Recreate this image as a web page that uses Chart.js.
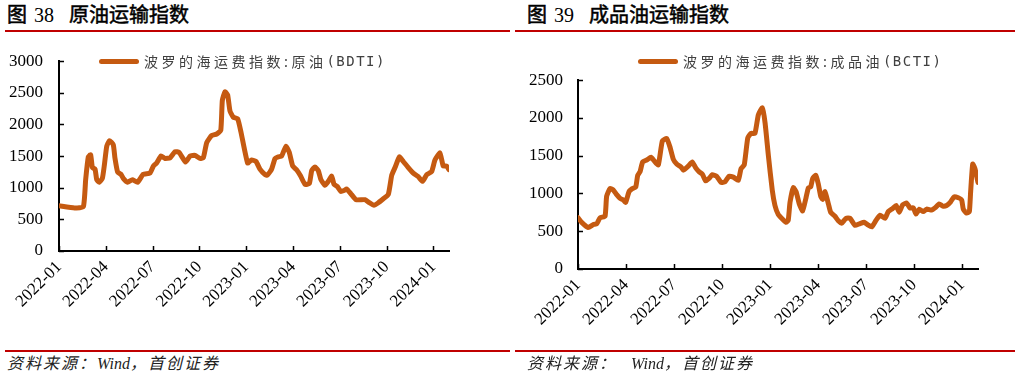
<!DOCTYPE html>
<html lang="zh-CN">
<head>
<meta charset="utf-8">
<title>原油运输指数 / 成品油运输指数</title>
<script src="https://cdn.jsdelivr.net/npm/chart.js@4.4.1/dist/chart.umd.min.js"></script>
<style>
  html, body { margin: 0; padding: 0; background: #fff; }
  body { width: 1021px; height: 380px; position: relative; overflow: hidden; font-family: "Noto Sans CJK SC", sans-serif; }
  .title { position: absolute; top: 4px; line-height: 22px; font-size: 20px; font-weight: normal; color: #000; white-space: nowrap;
           -webkit-text-stroke: 0.5px #000;
           font-family: "Liberation Serif", "Noto Sans CJK SC", serif; }
  .title .num { -webkit-text-stroke: 0; }
  .rule { position: absolute; height: 2px; background: #c00000; }
  .box { position: absolute; }
  .legend { position: absolute; display: flex; align-items: center; height: 18px; white-space: nowrap; color: #404040; }
  .legend .swatch { width: 40px; height: 5px; border-radius: 3px; background: #C55A11; margin-right: 5px; }
  .legend .cn { font-size: 14px; letter-spacing: 3.5px; }
  .legend .en { font-family: "DejaVu Sans Mono", monospace; font-size: 14px; letter-spacing: 1.5px; }
  .source { position: absolute; top: 355px; font-size: 16px; line-height: 18px; font-style: italic; color: #222; white-space: nowrap;
            font-family: "Liberation Serif", "Noto Sans CJK SC", serif; }
  .source .cn { letter-spacing: 2px; }
</style>
</head>
<body>

<div class="title" style="left:7px">图<span class="num" style="margin:0 15px 0 7px">38</span>原油运输指数</div>
<div class="rule" style="left:5px; width:505px; top:30px"></div>
<div class="title" style="left:527px">图<span class="num" style="margin:0 15px 0 7px">39</span>成品油运输指数</div>
<div class="rule" style="left:515px; width:500px; top:30px"></div>

<div class="box" style="left:0; top:35px"><canvas id="bdti" width="505" height="300"></canvas></div>
<div class="box" style="left:515px; top:55px"><canvas id="bcti" width="505" height="300"></canvas></div>

<div class="legend" style="left:99px; top:52px"><span class="swatch"></span><span class="cn">波罗的海运费指数:原油</span><span class="en">(BDTI)</span></div>
<div class="legend" style="left:638px; top:52px"><span class="swatch"></span><span class="cn">波罗的海运费指数:成品油</span><span class="en">(BCTI)</span></div>

<div class="rule" style="left:5px; width:505px; top:350px"></div>
<div class="rule" style="left:515px; width:500px; top:350px"></div>
<div class="source" style="left:7px"><span class="cn">资料来源：</span>Wind<span class="cn">，首创证券</span></div>
<div class="source" style="left:527px"><span class="cn">资料来源：</span><span style="margin-left:14px">Wind</span><span class="cn">，首创证券</span></div>

<script>
// quarter tick labels, one every 3 months from 2022-01
const quarterLabels = ['2022-01', '2022-04', '2022-07', '2022-10', '2023-01',
                       '2023-04', '2023-07', '2023-10', '2024-01'];

// x = months since 2022-01 (fractional)
const bdtiMonths = [0, 1.0, 1.56, 1.71, 1.88, 2.03, 2.14, 2.31, 2.42, 2.58,
  2.78, 2.9, 3.06, 3.23, 3.48, 3.59, 3.76, 3.97, 4.12, 4.4,
  4.7, 5.04, 5.4, 5.83, 6.05, 6.26, 6.54, 6.79, 7.12, 7.44,
  7.69, 8.12, 8.4, 8.72, 9.04, 9.25, 9.47, 9.79, 10.11, 10.37,
  10.47, 10.64, 10.81, 10.96, 11.17, 11.45, 11.67, 12.09, 12.35, 12.63,
  12.88, 13.21, 13.35, 13.63, 13.85, 14.06, 14.27, 14.55, 14.76, 14.98,
  15.24, 15.49, 15.77, 16.05, 16.2, 16.41, 16.62, 16.78, 17.05, 17.26,
  17.48, 17.63, 17.84, 18.06, 18.27, 18.44, 18.7, 19.04, 19.62, 19.89,
  20.19, 20.47, 20.79, 21.11, 21.33, 21.54, 21.82, 22.07, 22.39, 22.71,
  23.03, 23.31, 23.57, 23.89, 24.1, 24.42, 24.63, 24.85, 25.0];
const bdtiValues = [714, 681, 700, 1130, 1488, 1521, 1318, 1294, 1126, 1087,
  1149, 1343, 1656, 1743, 1681, 1463, 1246, 1213, 1149, 1087,
  1126, 1087, 1213, 1232, 1343, 1391, 1502, 1463, 1473, 1569,
  1560, 1405, 1502, 1511, 1463, 1473, 1714, 1826, 1850, 1908,
  2381, 2517, 2468, 2213, 2116, 2091, 1874, 1391, 1439, 1415,
  1294, 1207, 1198, 1294, 1463, 1488, 1502, 1656, 1560, 1343,
  1280, 1184, 1053, 1068, 1271, 1329, 1271, 1135, 1039, 1101,
  1184, 1053, 1019, 942, 956, 981, 908, 811, 811, 763,
  724, 763, 826, 894, 1198, 1319, 1488, 1415, 1319, 1232,
  1174, 1101, 1207, 1256, 1439, 1550, 1343, 1343, 1285];

const bctiMonths = [0, 0.23, 0.64, 0.96, 1.17, 1.38, 1.69, 1.79, 2.0, 2.21,
  2.42, 2.63, 2.83, 2.98, 3.19, 3.39, 3.61, 3.73, 3.88, 4.04,
  4.29, 4.56, 4.77, 5.02, 5.27, 5.54, 5.75, 5.96, 6.17, 6.44,
  6.58, 6.89, 7.14, 7.36, 7.56, 7.77, 7.98, 8.19, 8.39, 8.67,
  8.94, 9.19, 9.44, 9.71, 10.02, 10.19, 10.39, 10.61, 10.81, 11.06,
  11.27, 11.52, 11.69, 11.9, 12.14, 12.31, 12.52, 12.73, 13.0, 13.14,
  13.25, 13.46, 13.63, 13.83, 14.04, 14.25, 14.4, 14.54, 14.67, 14.86,
  15.02, 15.17, 15.29, 15.44, 15.65, 15.79, 16.06, 16.27, 16.48, 16.75,
  17.0, 17.31, 17.58, 17.88, 18.08, 18.36, 18.63, 18.88, 19.19, 19.39,
  19.67, 19.88, 20.08, 20.29, 20.54, 20.75, 20.96, 21.13, 21.33, 21.58,
  21.79, 22.11, 22.31, 22.58, 22.79, 23.04, 23.29, 23.5, 23.77, 23.98,
  24.08, 24.29, 24.46, 24.54, 24.67, 24.81, 25.0];
const bctiValues = [679, 618, 549, 589, 598, 679, 699, 963, 1065, 1045,
  984, 935, 915, 882, 1024, 1065, 1085, 1240, 1289, 1418,
  1443, 1479, 1430, 1378, 1695, 1728, 1614, 1451, 1390, 1350,
  1309, 1362, 1418, 1338, 1289, 1256, 1167, 1199, 1248, 1228,
  1146, 1155, 1228, 1216, 1175, 1329, 1378, 1736, 1796, 1796,
  2040, 2134, 1939, 1500, 1045, 841, 719, 671, 618, 646,
  882, 1077, 1024, 862, 768, 943, 1077, 1085, 1199, 1240,
  1126, 963, 923, 1024, 862, 752, 699, 638, 606, 671,
  671, 577, 598, 618, 589, 557, 646, 711, 671, 760,
  801, 841, 752, 850, 874, 809, 809, 728, 793, 760,
  793, 780, 809, 862, 833, 841, 890, 955, 943, 915,
  793, 740, 760, 1024, 1390, 1329, 1146];

const lineColor = '#C55A11';
const tickFont = { family: 'Liberation Serif', size: 17 };

// short tick marks drawn inside the plot area
const innerTicks = {
  id: 'innerTicks',
  afterDraw(chart) {
    const { ctx, chartArea, scales } = chart;
    ctx.save();
    ctx.strokeStyle = '#000';
    ctx.lineWidth = 1.5;
    ctx.beginPath();
    scales.x.ticks.forEach(t => {
      const px = Math.round(scales.x.getPixelForValue(t.value)) + 0.5;
      ctx.moveTo(px, chartArea.bottom);
      ctx.lineTo(px, chartArea.bottom - 5);
    });
    scales.y.ticks.forEach(t => {
      const py = Math.round(scales.y.getPixelForValue(t.value)) + 0.5;
      ctx.moveTo(chartArea.left, py);
      ctx.lineTo(chartArea.left + 5, py);
    });
    ctx.stroke();
    ctx.restore();
  }
};

function makeChart(id, months, values, yMax, yWidth, xHeight, padRight, yPad) {
  const points = months.map((m, i) => ({ x: m, y: values[i] }));
  return new Chart(document.getElementById(id), {
    type: 'line',
    data: {
      datasets: [{
        data: points,
        borderColor: lineColor,
        borderWidth: 5,
        borderJoinStyle: 'round',
        borderCapStyle: 'round',
        pointRadius: 0,
        tension: 0.15
      }]
    },
    options: {
      responsive: false,
      animation: false,
      devicePixelRatio: 1,
      layout: { padding: { top: 9, right: padRight, left: 0, bottom: 0 } },
      plugins: { legend: { display: false }, tooltip: { enabled: false } },
      scales: {
        x: {
          type: 'linear',
          min: 0,
          max: 25,
          grid: { display: false, drawTicks: false },
          border: { display: true, color: '#000', width: 2 },
          ticks: {
            stepSize: 3,
            includeBounds: false,
            autoSkip: false,
            minRotation: 45,
            maxRotation: 45,
            padding: 6,
            color: '#000',
            font: tickFont,
            callback: v => quarterLabels[v / 3]
          },
          afterFit: s => { s.height = xHeight; }
        },
        y: {
          min: 0,
          max: yMax,
          grid: { display: false, drawTicks: false },
          border: { display: true, color: '#000', width: 2 },
          ticks: { stepSize: 500, padding: yPad, color: '#000', font: tickFont, callback: v => String(v) },
          afterFit: s => { s.width = yWidth; }
        }
      }
    },
    plugins: [innerTicks]
  });
}

makeChart('bdti', bdtiMonths, bdtiValues, 3000, 59, 84, 56, 16);
makeChart('bcti', bctiMonths, bctiValues, 2500, 63, 86, 42, 15);
</script>
</body>
</html>
